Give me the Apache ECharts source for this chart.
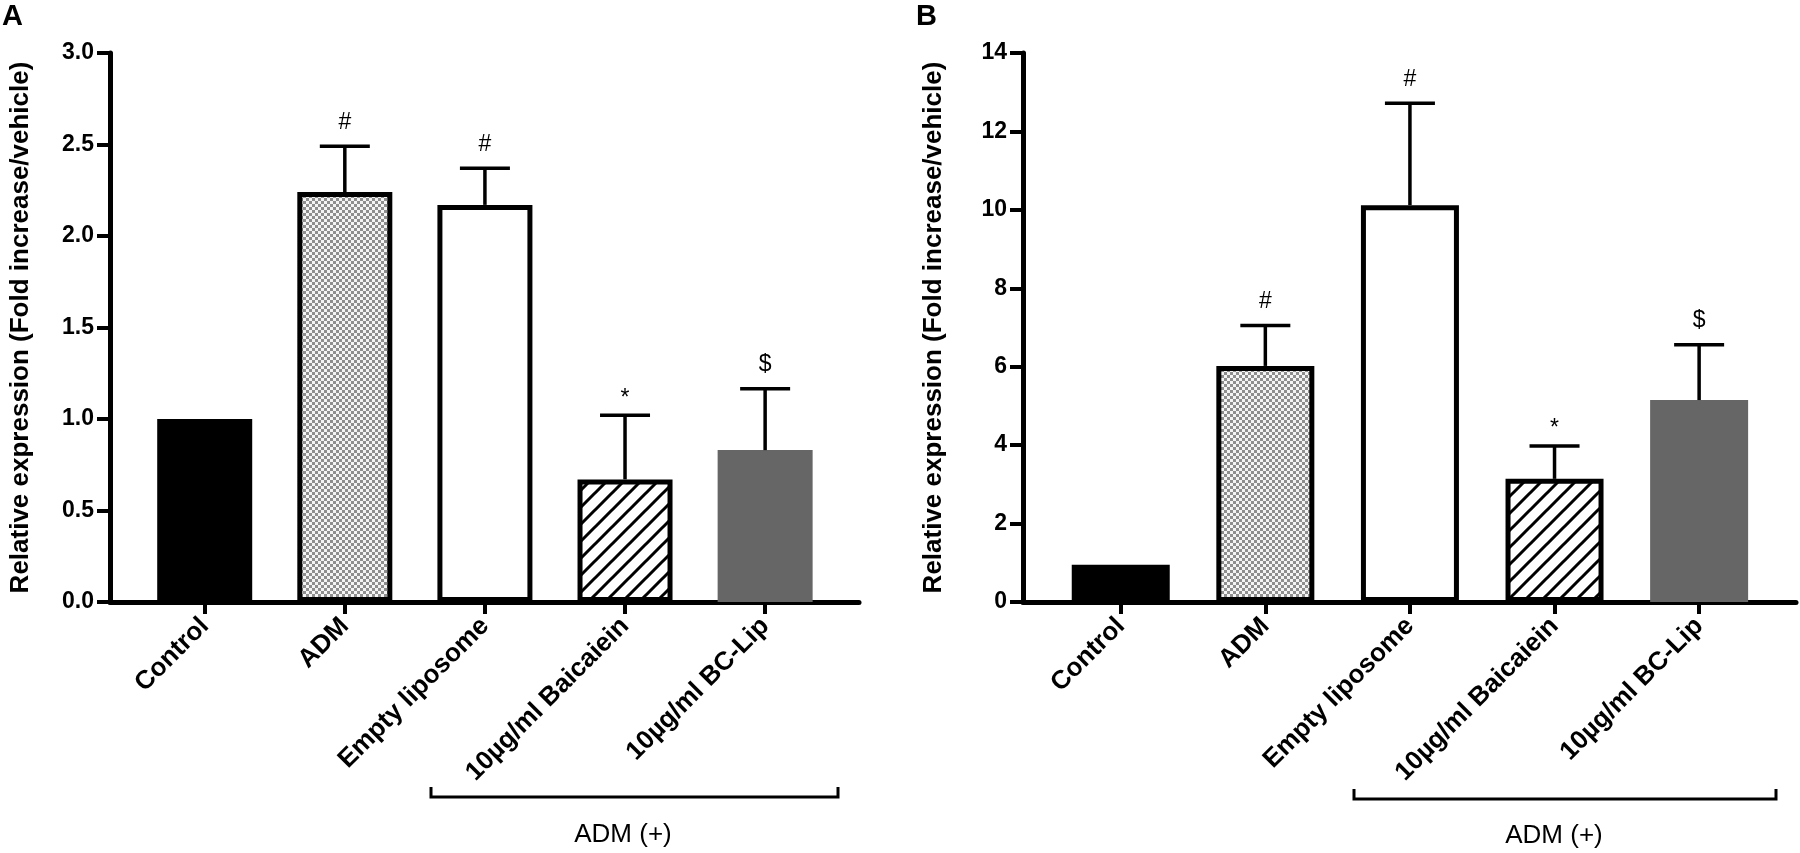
<!DOCTYPE html>
<html><head><meta charset="utf-8">
<script src="https://cdn.jsdelivr.net/npm/echarts@6/dist/echarts.min.js"></script>
<style>html,body{margin:0;padding:0;background:#fff}#c{width:1800px;height:853px}</style>
</head><body><div id="c"></div>
<script>
// ---- data ----
const categories = ['Control', 'ADM', 'Empty liposome', '10µg/ml Baicaiein', '10µg/ml BC-Lip'];
const categoryPositions = [0, 1, 2, 3, 4];
const panelA_mean   = [1.0, 2.24, 2.17, 0.67, 0.83];
const panelA_errTop = [null, 2.49, 2.37, 1.02, 1.165];
const panelA_marks  = ['', '#', '#', '*', '$'];
const panelB_mean   = [0.95, 6.02, 10.12, 3.14, 5.15];
const panelB_errTop = [null, 7.05, 12.72, 3.98, 6.56];
const panelB_marks  = ['', '#', '#', '*', '$'];
const yAxisA = { min: 0, max: 3, interval: 0.5 };
const yAxisB = { min: 0, max: 14, interval: 2 };
const yAxisTitle = 'Relative expression (Fold increase/vehicle)';
const groupLabel = 'ADM (+)';

// ---- patterns ----
function checker() {
  const c = document.createElement('canvas'); c.width = 6; c.height = 6;
  const g = c.getContext('2d');
  g.fillStyle = '#f4f4f4'; g.fillRect(0, 0, 6, 6);
  g.fillStyle = '#8e8e8e'; g.fillRect(0, 0, 3, 3); g.fillRect(3, 3, 3, 3);
  return c;
}
function hatch() {
  const s = 17, c = document.createElement('canvas'); c.width = s; c.height = s;
  const g = c.getContext('2d');
  g.fillStyle = '#fff'; g.fillRect(0, 0, s, s);
  g.strokeStyle = '#000'; g.lineWidth = 3;
  g.beginPath();
  g.moveTo(0, s); g.lineTo(s, 0);
  g.moveTo(-2, 2); g.lineTo(2, -2);
  g.moveTo(s - 2, s + 2); g.lineTo(s + 2, s - 2);
  g.stroke();
  return c;
}
const barStyles = [
  { color: '#000' },
  { color: { image: checker(), repeat: 'repeat' }, borderColor: '#000', borderWidth: 5 },
  { color: '#fff', borderColor: '#000', borderWidth: 5 },
  { color: { image: hatch(), repeat: 'repeat' }, borderColor: '#000', borderWidth: 5 },
  { color: '#666666' }
];

const FONT = 'Arial, "Liberation Sans", sans-serif';
const chart = echarts.init(document.getElementById('c'));

function xAxisCfg(idx) {
  return {
    type: 'value', gridIndex: idx, min: -0.676, max: 4.67,
    axisLine: { show: true, onZero: false, lineStyle: { color: '#000', width: 5 } },
    axisTick: { show: true, customValues: categoryPositions, length: 12, lineStyle: { color: '#000', width: 4 } },
    axisLabel: {
      customValues: categoryPositions, formatter: v => categories[Math.round(v)],
      rotate: 45, fontSize: 26, fontWeight: 'bold', color: '#000', fontFamily: FONT, margin: 20
    },
    splitLine: { show: false }
  };
}
function yAxisCfg(idx, ax, digits, gap) {
  return {
    type: 'value', gridIndex: idx, min: ax.min, max: ax.max, interval: ax.interval,
    axisLine: { show: true, onZero: false, lineStyle: { color: '#000', width: 5 } },
    axisTick: { show: true, length: 13, lineStyle: { color: '#000', width: 4 } },
    axisLabel: { color: '#000', fontSize: 23, fontWeight: 'bold', fontFamily: FONT, margin: 16,
      formatter: v => v.toFixed(digits) },
    splitLine: { show: false },
    name: yAxisTitle, nameLocation: 'middle', nameGap: gap,
    nameTextStyle: { fontSize: 26, fontWeight: 'bold', color: '#000', fontFamily: FONT }
  };
}
function barSeries(idx, means, width) {
  return {
    type: 'bar', xAxisIndex: idx, yAxisIndex: idx, barWidth: width,
    data: means.map((v, i) => ({ value: [categoryPositions[i], v], itemStyle: barStyles[i] })),
    silent: true, animation: false
  };
}
function errSeries(idx, means, tops, marks) {
  return {
    type: 'custom', xAxisIndex: idx, yAxisIndex: idx, clip: false, z: 5, silent: true, animation: false,
    data: tops.map((t, i) => [categoryPositions[i], t == null ? '-' : t, means[i]]),
    renderItem: (params, api) => {
      const top = api.value(1);
      if (isNaN(top)) return null;
      const pT = api.coord([api.value(0), top]);
      const pM = api.coord([api.value(0), api.value(2)]);
      const mk = marks[params.dataIndex];
      return {
        type: 'group', children: [
          { type: 'line', shape: { x1: pT[0], y1: pM[1], x2: pT[0], y2: pT[1] }, style: { stroke: '#000', lineWidth: 3.5 } },
          { type: 'line', shape: { x1: pT[0] - 25, y1: pT[1], x2: pT[0] + 25, y2: pT[1] }, style: { stroke: '#000', lineWidth: 3.5 } },
          { type: 'text', style: { text: mk, x: pT[0], y: pT[1] - (mk === '*' ? 17 : 24), align: 'center', verticalAlign: 'middle',
            fontSize: 23, fontFamily: FONT, fill: '#000' } }
        ]
      };
    }
  };
}
function bracket(x1, x2, y) {
  return { type: 'polyline', shape: { points: [[x1, y - 10], [x1, y], [x2, y], [x2, y - 10]] },
    style: { stroke: '#000', lineWidth: 3, fill: null } };
}
function txt(t, x, y, size, weight, align) {
  return { type: 'text', x: x, y: y, style: { text: t, fontSize: size, fontWeight: weight, fontFamily: FONT,
    fill: '#000', align: align, verticalAlign: 'middle' } };
}

chart.setOption({
  backgroundColor: '#fff',
  animation: false,
  grid: [
    { left: 110, right: 941, top: 53, bottom: 251 },
    { left: 1023, right: 4, top: 53, bottom: 251 }
  ],
  xAxis: [xAxisCfg(0), xAxisCfg(1)],
  yAxis: [yAxisCfg(0, yAxisA, 1, 76), yAxisCfg(1, yAxisB, 0, 76)],
  series: [
    barSeries(0, panelA_mean, 95), errSeries(0, panelA_mean, panelA_errTop, panelA_marks),
    barSeries(1, panelB_mean, 98), errSeries(1, panelB_mean, panelB_errTop, panelB_marks)
  ],
  graphic: [
    txt('A', 2, 17, 29, 'bold', 'left'),
    txt('B', 916, 17, 29, 'bold', 'left'),
    bracket(431, 838, 797),
    bracket(1354, 1776, 799),
    txt(groupLabel, 623, 835, 26, 'normal', 'center'),
    txt(groupLabel, 1554, 836, 26, 'normal', 'center')
  ]
});
</script>
</body></html>
